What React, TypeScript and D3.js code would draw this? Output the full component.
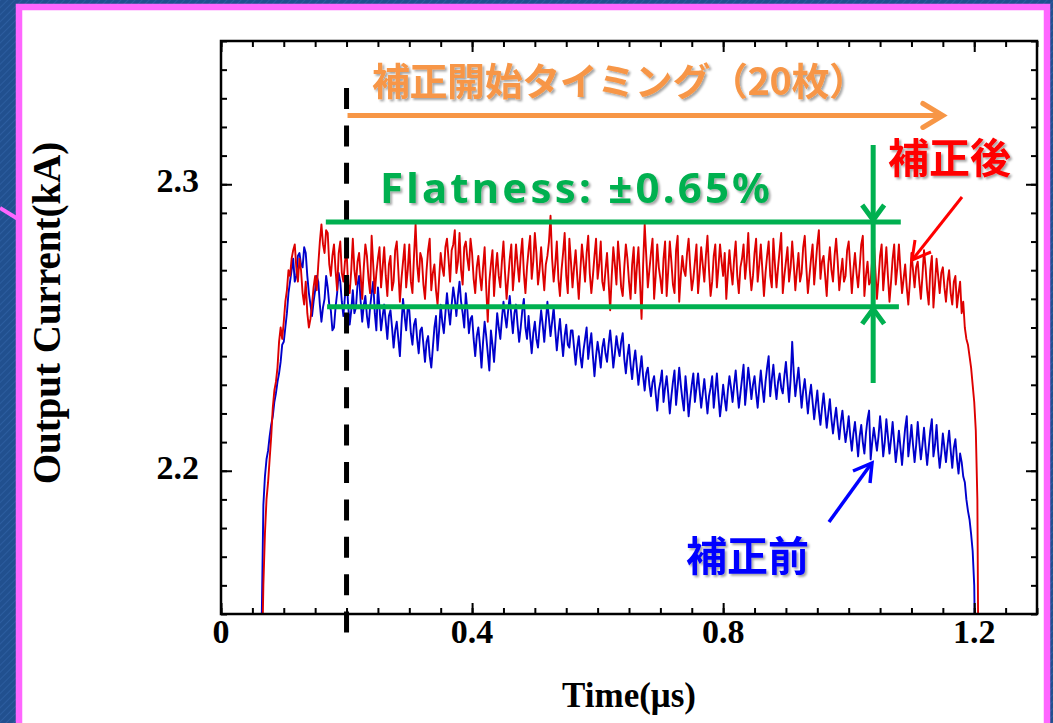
import React, { useEffect, useRef } from "react";
import * as d3 from "d3";

// sampling of the scope traces (μs)
const T0 = 0.06;
const DT = 0.0025;

// 補正前 (blue), 20 samples per 0.05 μs
const before = [
  2.100, 2.120, 2.150, 2.188, 2.198, 2.204, 2.207, 2.212, 2.216, 2.219, 2.224, 2.227, 2.231, 2.234, 2.238, 2.244, 2.245, 2.250, 2.255, 2.262,
  2.266, 2.270, 2.274, 2.266, 2.268, 2.275, 2.276, 2.272, 2.271, 2.278, 2.276, 2.268, 2.262, 2.258, 2.254, 2.259, 2.263, 2.268, 2.266, 2.258,
  2.252, 2.257, 2.260, 2.268, 2.264, 2.258, 2.256, 2.249, 2.250, 2.257, 2.262, 2.269, 2.266, 2.259, 2.254, 2.261, 2.268, 2.258, 2.251, 2.256,
  2.263, 2.255, 2.257, 2.265, 2.268, 2.259, 2.252, 2.258, 2.261, 2.254, 2.250, 2.257, 2.262, 2.266, 2.255, 2.249, 2.264, 2.257, 2.249, 2.254,
  2.258, 2.252, 2.246, 2.254, 2.256, 2.250, 2.243, 2.249, 2.252, 2.246, 2.240, 2.251, 2.260, 2.254, 2.249, 2.257, 2.256, 2.248, 2.244, 2.251,
  2.253, 2.246, 2.241, 2.249, 2.250, 2.244, 2.238, 2.245, 2.247, 2.240, 2.236, 2.243, 2.250, 2.254, 2.242, 2.249, 2.258, 2.252, 2.248, 2.255,
  2.262, 2.256, 2.251, 2.258, 2.264, 2.260, 2.254, 2.261, 2.266, 2.259, 2.255, 2.250, 2.262, 2.256, 2.248, 2.253, 2.254, 2.246, 2.240, 2.247,
  2.250, 2.244, 2.236, 2.245, 2.252, 2.247, 2.241, 2.235, 2.249, 2.244, 2.238, 2.246, 2.255, 2.250, 2.246, 2.253, 2.259, 2.254, 2.250, 2.256,
  2.261, 2.254, 2.248, 2.255, 2.258, 2.251, 2.245, 2.250, 2.256, 2.260, 2.250, 2.246, 2.254, 2.247, 2.241, 2.248, 2.252, 2.246, 2.243, 2.250,
  2.256, 2.251, 2.245, 2.252, 2.259, 2.253, 2.247, 2.252, 2.257, 2.249, 2.242, 2.248, 2.253, 2.246, 2.240, 2.247, 2.251, 2.244, 2.243, 2.249,
  2.249, 2.243, 2.237, 2.243, 2.247, 2.240, 2.236, 2.242, 2.246, 2.250, 2.239, 2.244, 2.248, 2.240, 2.233, 2.240, 2.245, 2.241, 2.236, 2.243,
  2.246, 2.241, 2.238, 2.244, 2.249, 2.243, 2.236, 2.241, 2.247, 2.243, 2.240, 2.245, 2.248, 2.239, 2.234, 2.240, 2.244, 2.237, 2.232, 2.238,
  2.242, 2.236, 2.230, 2.235, 2.240, 2.233, 2.228, 2.234, 2.236, 2.230, 2.226, 2.231, 2.233, 2.227, 2.221, 2.228, 2.231, 2.235, 2.224, 2.229,
  2.233, 2.227, 2.220, 2.226, 2.231, 2.235, 2.223, 2.229, 2.236, 2.230, 2.225, 2.221, 2.233, 2.227, 2.219, 2.225, 2.230, 2.234, 2.224, 2.229,
  2.234, 2.228, 2.222, 2.227, 2.232, 2.226, 2.220, 2.226, 2.229, 2.233, 2.222, 2.228, 2.234, 2.226, 2.219, 2.224, 2.230, 2.225, 2.221, 2.228,
  2.233, 2.229, 2.224, 2.230, 2.235, 2.228, 2.222, 2.227, 2.232, 2.237, 2.223, 2.229, 2.236, 2.231, 2.225, 2.230, 2.233, 2.227, 2.222, 2.229,
  2.235, 2.229, 2.224, 2.231, 2.236, 2.240, 2.226, 2.232, 2.237, 2.230, 2.225, 2.231, 2.234, 2.229, 2.227, 2.233, 2.238, 2.231, 2.224, 2.232,
  2.245, 2.234, 2.226, 2.231, 2.236, 2.229, 2.222, 2.228, 2.232, 2.226, 2.220, 2.226, 2.230, 2.224, 2.218, 2.223, 2.228, 2.221, 2.216, 2.222,
  2.227, 2.221, 2.215, 2.220, 2.225, 2.218, 2.213, 2.218, 2.222, 2.216, 2.211, 2.217, 2.221, 2.215, 2.210, 2.214, 2.219, 2.212, 2.207, 2.213,
  2.217, 2.211, 2.205, 2.212, 2.216, 2.210, 2.206, 2.213, 2.218, 2.221, 2.204, 2.210, 2.215, 2.211, 2.207, 2.212, 2.219, 2.213, 2.205, 2.210,
  2.218, 2.212, 2.206, 2.211, 2.217, 2.210, 2.203, 2.208, 2.214, 2.208, 2.202, 2.209, 2.215, 2.219, 2.205, 2.210, 2.216, 2.209, 2.203, 2.209,
  2.217, 2.210, 2.204, 2.209, 2.215, 2.208, 2.202, 2.208, 2.214, 2.218, 2.205, 2.209, 2.216, 2.207, 2.201, 2.206, 2.213, 2.208, 2.203, 2.209,
  2.214, 2.207, 2.201, 2.208, 2.211, 2.204, 2.199, 2.206, 2.203, 2.198, 2.196, 2.190, 2.186, 2.183, 2.178, 2.172, 2.160, 2.120, 2.100, 2.100,
];

// 補正後 (red)
const after = [
  2.100, 2.115, 2.130, 2.160, 2.178, 2.190, 2.196, 2.204, 2.212, 2.222, 2.228, 2.231, 2.236, 2.245, 2.250, 2.246, 2.252, 2.259, 2.263, 2.270,
  2.268, 2.274, 2.277, 2.279, 2.271, 2.266, 2.274, 2.270, 2.262, 2.258, 2.266, 2.255, 2.250, 2.253, 2.258, 2.264, 2.268, 2.263, 2.272, 2.280,
  2.286, 2.279, 2.276, 2.284, 2.283, 2.272, 2.268, 2.275, 2.279, 2.270, 2.263, 2.276, 2.280, 2.269, 2.266, 2.273, 2.277, 2.265, 2.262, 2.270,
  2.281, 2.270, 2.265, 2.273, 2.276, 2.268, 2.260, 2.271, 2.279, 2.275, 2.267, 2.262, 2.282, 2.272, 2.262, 2.269, 2.274, 2.278, 2.264, 2.271,
  2.278, 2.268, 2.261, 2.272, 2.275, 2.263, 2.266, 2.277, 2.280, 2.270, 2.259, 2.267, 2.273, 2.279, 2.264, 2.270, 2.279, 2.266, 2.262, 2.275,
  2.286, 2.272, 2.266, 2.276, 2.274, 2.265, 2.260, 2.270, 2.277, 2.281, 2.263, 2.269, 2.272, 2.263, 2.258, 2.267, 2.276, 2.271, 2.268, 2.278,
  2.281, 2.274, 2.266, 2.277, 2.279, 2.284, 2.269, 2.273, 2.283, 2.270, 2.265, 2.278, 2.280, 2.274, 2.270, 2.281, 2.276, 2.267, 2.262, 2.271,
  2.275, 2.268, 2.263, 2.271, 2.278, 2.264, 2.252, 2.266, 2.272, 2.277, 2.261, 2.270, 2.276, 2.268, 2.264, 2.273, 2.280, 2.269, 2.260, 2.267,
  2.274, 2.279, 2.263, 2.270, 2.279, 2.272, 2.266, 2.275, 2.281, 2.269, 2.262, 2.271, 2.277, 2.282, 2.267, 2.273, 2.283, 2.276, 2.265, 2.270,
  2.278, 2.270, 2.263, 2.272, 2.275, 2.280, 2.289, 2.274, 2.266, 2.272, 2.280, 2.267, 2.261, 2.270, 2.276, 2.283, 2.268, 2.262, 2.281, 2.273,
  2.264, 2.271, 2.277, 2.268, 2.260, 2.270, 2.279, 2.273, 2.266, 2.276, 2.282, 2.269, 2.262, 2.268, 2.275, 2.281, 2.267, 2.272, 2.280, 2.266,
  2.263, 2.270, 2.276, 2.266, 2.256, 2.268, 2.278, 2.272, 2.265, 2.280, 2.273, 2.264, 2.261, 2.271, 2.279, 2.274, 2.266, 2.260, 2.272, 2.278,
  2.262, 2.271, 2.278, 2.266, 2.253, 2.272, 2.286, 2.275, 2.264, 2.270, 2.276, 2.281, 2.260, 2.268, 2.279, 2.271, 2.267, 2.262, 2.274, 2.280,
  2.261, 2.270, 2.280, 2.273, 2.265, 2.262, 2.277, 2.282, 2.259, 2.268, 2.275, 2.270, 2.268, 2.276, 2.281, 2.271, 2.263, 2.267, 2.273, 2.279,
  2.262, 2.269, 2.278, 2.272, 2.266, 2.275, 2.282, 2.270, 2.261, 2.266, 2.275, 2.279, 2.264, 2.271, 2.279, 2.273, 2.268, 2.276, 2.260, 2.269,
  2.277, 2.270, 2.265, 2.274, 2.280, 2.268, 2.262, 2.271, 2.274, 2.279, 2.267, 2.273, 2.283, 2.270, 2.263, 2.268, 2.276, 2.281, 2.266, 2.272,
  2.279, 2.270, 2.261, 2.269, 2.275, 2.280, 2.268, 2.264, 2.281, 2.272, 2.264, 2.271, 2.277, 2.283, 2.262, 2.268, 2.273, 2.278, 2.266, 2.271,
  2.280, 2.272, 2.263, 2.270, 2.276, 2.266, 2.269, 2.278, 2.282, 2.271, 2.262, 2.268, 2.274, 2.279, 2.265, 2.272, 2.279, 2.284, 2.267, 2.273,
  2.275, 2.268, 2.261, 2.272, 2.278, 2.270, 2.266, 2.275, 2.281, 2.273, 2.263, 2.269, 2.274, 2.266, 2.268, 2.277, 2.280, 2.271, 2.262, 2.270,
  2.276, 2.269, 2.264, 2.271, 2.279, 2.282, 2.261, 2.268, 2.273, 2.265, 2.266, 2.274, 2.280, 2.270, 2.260, 2.267, 2.275, 2.279, 2.263, 2.270,
  2.278, 2.268, 2.259, 2.266, 2.274, 2.279, 2.265, 2.271, 2.279, 2.270, 2.262, 2.267, 2.272, 2.264, 2.258, 2.266, 2.276, 2.270, 2.264, 2.271,
  2.273, 2.266, 2.260, 2.268, 2.277, 2.271, 2.263, 2.258, 2.270, 2.275, 2.257, 2.265, 2.274, 2.268, 2.262, 2.269, 2.271, 2.264, 2.259, 2.266,
  2.270, 2.262, 2.258, 2.266, 2.268, 2.257, 2.262, 2.266, 2.255, 2.259, 2.250, 2.246, 2.244, 2.240, 2.236, 2.230, 2.224, 2.214, 2.190, 2.100,
];

const xLabels = [0, 0.4, 0.8, 1.2];
const yLabels = [2.2, 2.3];
const startTime = 0.2; // 補正開始タイミング
const flatLow = 2.2572;
const flatHigh = 2.2868;

export default function App() {
  const ref = useRef<SVGSVGElement>(null);

  useEffect(() => {
    const W = 1053, H = 723;
    const svg = d3.select(ref.current).attr("width", W).attr("height", H);
    svg.selectAll("*").remove();

    const x = d3.scaleLinear().domain([0, 1.3]).range([221, 1037]);
    const y = d3.scaleLinear().domain([2.15, 2.35]).range([614, 41]);

    const defs = svg.append("defs");
    const pat = defs.append("pattern").attr("id", "stripes").attr("width", 5).attr("height", 5)
      .attr("patternUnits", "userSpaceOnUse").attr("patternTransform", "rotate(45)");
    pat.append("rect").attr("width", 5).attr("height", 5).attr("fill", "#21508f");
    pat.append("line").attr("x1", 0).attr("y1", 0).attr("x2", 0).attr("y2", 5)
      .attr("stroke", "#2c5d9f").attr("stroke-width", 2);
    defs.append("clipPath").attr("id", "plot").append("rect")
      .attr("x", 221).attr("y", 41).attr("width", 816).attr("height", 573);
    defs.append("filter").attr("id", "sh").attr("x", "-10%").attr("y", "-20%")
      .attr("width", "120%").attr("height", "150%")
      .append("feDropShadow").attr("dx", 2).attr("dy", 2).attr("stdDeviation", 1.3)
      .attr("flood-color", "#000").attr("flood-opacity", 0.35);

    // slide background + frame
    svg.append("rect").attr("width", W).attr("height", H).attr("fill", "url(#stripes)");
    svg.append("line").attr("x1", 0).attr("y1", 208).attr("x2", 18).attr("y2", 219)
      .attr("stroke", "#ff66ff").attr("stroke-width", 4);
    svg.append("rect").attr("x", 19).attr("y", 7).attr("width", 1028).attr("height", 730)
      .attr("fill", "#fff").attr("stroke", "#ff66ff").attr("stroke-width", 6.5);

    // traces
    const line = d3.line<number>().x((d, i) => x(T0 + i * DT)).y(d => y(d));
    const traces = svg.append("g").attr("clip-path", "url(#plot)");
    traces.append("path").attr("d", line(before)).attr("fill", "none")
      .attr("stroke", "#0000cc").attr("stroke-width", 1.9).attr("stroke-linejoin", "round");
    traces.append("path").attr("d", line(after)).attr("fill", "none")
      .attr("stroke", "#dd0000").attr("stroke-width", 1.9).attr("stroke-linejoin", "round");

    // axes frame and inward ticks
    const ax = svg.append("g");
    const tick = (g: any) => g.call((s: any) => s.select(".domain").remove())
      .selectAll("line").attr("stroke", "#000").attr("stroke-width", 2);
    const minorX = d3.range(0, 1.3001, 0.05);
    const minorY = d3.range(2.15, 2.3501, 0.01);
    const none = () => "";
    ax.append("g").attr("transform", "translate(0,614)")
      .call(d3.axisBottom(x).tickValues(minorX).tickSize(-6).tickFormat(none)).call(tick);
    ax.append("g").attr("transform", "translate(0,614)")
      .call(d3.axisBottom(x).tickValues(xLabels).tickSize(-11).tickFormat(none)).call(tick);
    ax.append("g").attr("transform", "translate(0,41)")
      .call(d3.axisTop(x).tickValues(minorX).tickSize(-6).tickFormat(none)).call(tick);
    ax.append("g").attr("transform", "translate(0,41)")
      .call(d3.axisTop(x).tickValues(xLabels).tickSize(-11).tickFormat(none)).call(tick);
    ax.append("g").attr("transform", "translate(221,0)")
      .call(d3.axisLeft(y).tickValues(minorY).tickSize(-6).tickFormat(none)).call(tick);
    ax.append("g").attr("transform", "translate(221,0)")
      .call(d3.axisLeft(y).tickValues(yLabels).tickSize(-11).tickFormat(none)).call(tick);
    ax.append("g").attr("transform", "translate(1037,0)")
      .call(d3.axisRight(y).tickValues(minorY).tickSize(-6).tickFormat(none)).call(tick);
    ax.append("g").attr("transform", "translate(1037,0)")
      .call(d3.axisRight(y).tickValues(yLabels).tickSize(-11).tickFormat(none)).call(tick);
    ax.append("rect").attr("x", 221).attr("y", 41).attr("width", 816).attr("height", 573)
      .attr("fill", "none").attr("stroke", "#000").attr("stroke-width", 2.5);

    const serif = "'Liberation Serif', 'Times New Roman', serif";
    ax.selectAll(".xl").data(xLabels).enter().append("text")
      .attr("x", d => x(d)).attr("y", 643).attr("text-anchor", "middle")
      .attr("font-family", serif).attr("font-weight", "bold").attr("font-size", 34)
      .text(d => (d === 0 ? "0" : d3.format(".1f")(d)));
    ax.selectAll(".yl").data(yLabels).enter().append("text")
      .attr("x", 199).attr("y", d => y(d) + 8).attr("text-anchor", "end")
      .attr("font-family", serif).attr("font-weight", "bold").attr("font-size", 34)
      .text(d => d3.format(".1f")(d));
    ax.append("text").attr("x", 629).attr("y", 707).attr("text-anchor", "middle")
      .attr("font-family", serif).attr("font-weight", "bold").attr("font-size", 35)
      .text("Time(μs)");
    ax.append("text").attr("transform", "translate(60,313) rotate(-90)").attr("text-anchor", "middle")
      .attr("font-family", serif).attr("font-weight", "bold").attr("font-size", 39)
      .text("Output Current(kA)");

    // annotations
    const ann = svg.append("g");
    ann.append("line").attr("x1", x(startTime)).attr("x2", x(startTime)).attr("y1", 88).attr("y2", 633)
      .attr("stroke", "#000").attr("stroke-width", 5).attr("stroke-dasharray", "21 16.4");

    const orange = "#f79646";
    ann.append("line").attr("x1", x(startTime) + 1).attr("x2", x(1.15)).attr("y1", y(2.324)).attr("y2", y(2.324))
      .attr("stroke", orange).attr("stroke-width", 5);
    ann.append("path").attr("d", `M${x(1.15) - 20},${y(2.324) - 12}L${x(1.15)},${y(2.324)}L${x(1.15) - 20},${y(2.324) + 12}`)
      .attr("fill", "none").attr("stroke", orange).attr("stroke-width", 5).attr("stroke-linecap", "round");
    const cjk = "'Noto Sans CJK JP', 'Noto Sans', sans-serif";
    ann.append("text").attr("x", 372).attr("y", 95).attr("font-family", cjk).attr("font-weight", "bold")
      .attr("font-size", 38).attr("fill", orange).attr("filter", "url(#sh)")
      .attr("textLength", 495).attr("lengthAdjust", "spacing")
      .text("補正開始タイミング（20枚）");

    const green = "#00b050";
    ann.append("line").attr("x1", x(0.167)).attr("x2", x(1.083)).attr("y1", y(flatHigh)).attr("y2", y(flatHigh))
      .attr("stroke", green).attr("stroke-width", 5);
    ann.append("line").attr("x1", x(0.169)).attr("x2", x(1.080)).attr("y1", y(flatLow)).attr("y2", y(flatLow))
      .attr("stroke", green).attr("stroke-width", 5);
    const ax0 = x(1.039);
    ann.append("line").attr("x1", ax0).attr("x2", ax0).attr("y1", 145).attr("y2", 383)
      .attr("stroke", green).attr("stroke-width", 5);
    ann.append("path").attr("d", `M${ax0 - 11},${y(flatHigh) - 17}L${ax0},${y(flatHigh) - 2}L${ax0 + 11},${y(flatHigh) - 17}`)
      .attr("fill", "none").attr("stroke", green).attr("stroke-width", 5);
    ann.append("path").attr("d", `M${ax0 - 11},${y(flatLow) + 17}L${ax0},${y(flatLow) + 2}L${ax0 + 11},${y(flatLow) + 17}`)
      .attr("fill", "none").attr("stroke", green).attr("stroke-width", 5);
    ann.append("text").attr("x", 380).attr("y", 203).attr("font-family", "'Noto Sans', sans-serif")
      .attr("font-weight", "bold").attr("font-size", 42).attr("fill", green).attr("filter", "url(#sh)")
      .attr("textLength", 390).attr("lengthAdjust", "spacing")
      .text("Flatness: ±0.65%");

    ann.append("text").attr("x", 888).attr("y", 173).attr("font-family", cjk).attr("font-weight", "bold")
      .attr("font-size", 41).attr("fill", "#ff0000").attr("filter", "url(#sh)").text("補正後");
    ann.append("line").attr("x1", 962).attr("y1", 197).attr("x2", 913).attr("y2", 259)
      .attr("stroke", "#ff0000").attr("stroke-width", 3);
    ann.append("path").attr("d", "M915,240L912,260L931,252").attr("fill", "none")
      .attr("stroke", "#ff0000").attr("stroke-width", 3);

    ann.append("text").attr("x", 686).attr("y", 571).attr("font-family", cjk).attr("font-weight", "bold")
      .attr("font-size", 41).attr("fill", "#0000ff").attr("filter", "url(#sh)").text("補正前");
    ann.append("line").attr("x1", 829).attr("y1", 522).attr("x2", 871).attr("y2", 464)
      .attr("stroke", "#0000ff").attr("stroke-width", 3.5);
    ann.append("path").attr("d", "M853,471L872,463L870,483").attr("fill", "none")
      .attr("stroke", "#0000ff").attr("stroke-width", 3.5);
  }, []);

  return (
    <div style={{ position: "absolute", left: 0, top: 0 }}>
      <svg ref={ref} style={{ display: "block" }} />
    </div>
  );
}
